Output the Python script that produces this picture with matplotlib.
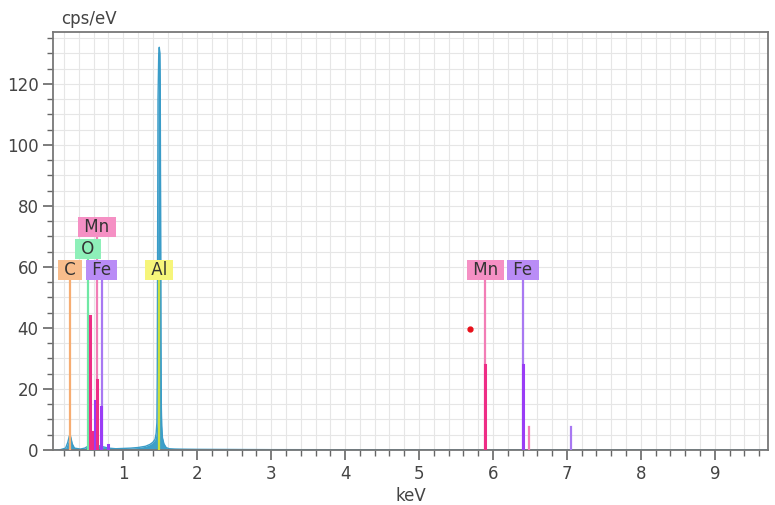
import numpy as np
import matplotlib
matplotlib.use("Agg")
from matplotlib import pyplot as plt
from matplotlib.ticker import MultipleLocator

# spectrum (keV, cps/eV)
spec_e = [0.05, 0.15, 0.22, 0.25, 0.27, 0.28, 0.29, 0.31, 0.34, 0.42, 0.48, 0.52,
          0.56, 0.60, 0.65, 0.70, 0.75, 0.80, 0.90, 1.00, 1.10, 1.20, 1.30, 1.36,
          1.40, 1.43, 1.445, 1.455, 1.46, 1.465, 1.47, 1.48, 1.487, 1.495, 1.50,
          1.505, 1.51, 1.515, 1.52, 1.53, 1.55, 1.58, 1.62, 1.70, 1.80, 2.0, 2.5,
          3.0, 4.0, 5.0, 6.0, 7.0, 8.0, 9.0, 9.7]
spec_c = [0.0, 0.1, 0.6, 2.5, 4.5, 5.0, 4.2, 2.0, 0.6, 0.3, 0.6, 1.2,
          0.8, 1.0, 1.5, 1.2, 0.9, 0.6, 0.4, 0.5, 0.6, 0.8, 1.2, 1.8,
          2.5, 3.5, 5.5, 9.0, 25, 70, 115, 130, 132, 130, 120,
          80, 35, 14, 8, 4, 2, 0.8, 0.4, 0.3, 0.25, 0.2, 0.15,
          0.1, 0.08, 0.05, 0.05, 0.03, 0.02, 0.02, 0.0]

# element marker lines and labels
line_e = [0.277, 0.525, 0.645, 0.71, 1.486, 5.899, 6.404]
line_names = ["C", "O", "Mn", "Fe", "Al", "Mn", "Fe"]
label_y = [58.9, 65.9, 73.0, 58.9, 58.9, 58.9, 58.9]

# intensity bars
bar_e = [0.556, 0.575, 0.615, 0.645, 0.705, 0.79, 5.899, 6.404, 6.49, 7.058]
bar_h = [44, 6, 16, 23, 14, 1.5, 28, 28, 7.5, 7.5]
bar_el = ["Mn", "Mn", "Fe", "Mn", "Fe", "Fe", "Mn", "Fe", "Mn", "Fe"]

box_col = {"C": "#f8bd8c", "O": "#8ef0b9", "Mn": "#f590c4", "Fe": "#b98cf6", "Al": "#f6f57a"}
line_col = {"C": "#f6ad72", "O": "#6fe8a4", "Mn": "#f27db6", "Fe": "#a878f2", "Al": "#c9df3c"}
bar_col = {"Mn": "#ee2d86", "Fe": "#9a3cf6"}

fig = plt.figure(figsize=(7.75, 5.05), dpi=100)
ax = fig.add_axes([0.0684, 0.109, 0.9226, 0.8276])

ax.fill_between(spec_e, spec_c, color="#3d9fc9", lw=0, zorder=2)
ax.plot(spec_e, spec_c, color="#3a9cc8", lw=1.0, zorder=2)

for e, n, y in zip(line_e, line_names, label_y):
    ax.plot([e, e], [0, y - 3.5], color=line_col[n], lw=1.6, zorder=3)
    ax.text(e, y, " " + n + " ", ha="center", va="center", fontsize=12, color="#333333",
            zorder=6, bbox=dict(boxstyle="square,pad=0.06", fc=box_col[n], ec="none"))

for e, h, el in zip(bar_e, bar_h, bar_el):
    light = h < 10 and e > 5
    c = line_col[el] if light else bar_col[el]
    ax.plot([e, e], [0, h], color=c, lw=1.6 if light else 2.2, zorder=4)

ax.plot([5.69], [39.7], "o", color="#e8101a", ms=3.5, zorder=5)

ax.set_xlim(0.05, 9.72)
ax.set_ylim(0, 137)
ax.xaxis.set_major_locator(MultipleLocator(1))
ax.xaxis.set_minor_locator(MultipleLocator(0.2))
ax.yaxis.set_major_locator(MultipleLocator(20))
ax.yaxis.set_minor_locator(MultipleLocator(5))
ax.grid(which="both", color="#e6e6e6", lw=0.8, zorder=0)
ax.set_axisbelow(True)

ax.tick_params(which="major", length=7, width=1.2, color="#666666", labelsize=12,
               labelcolor="#444444")
ax.tick_params(which="minor", length=4, width=1.0, color="#666666")
for s in ax.spines.values():
    s.set_color("#777777")
    s.set_linewidth(1.3)

ax.set_xlabel("keV", fontsize=12, color="#444444", labelpad=3)
ax.text(0.012, 1.01, "cps/eV", transform=ax.transAxes, fontsize=12, color="#444444",
        ha="left", va="bottom")

fig.savefig("out.png", dpi=100)
